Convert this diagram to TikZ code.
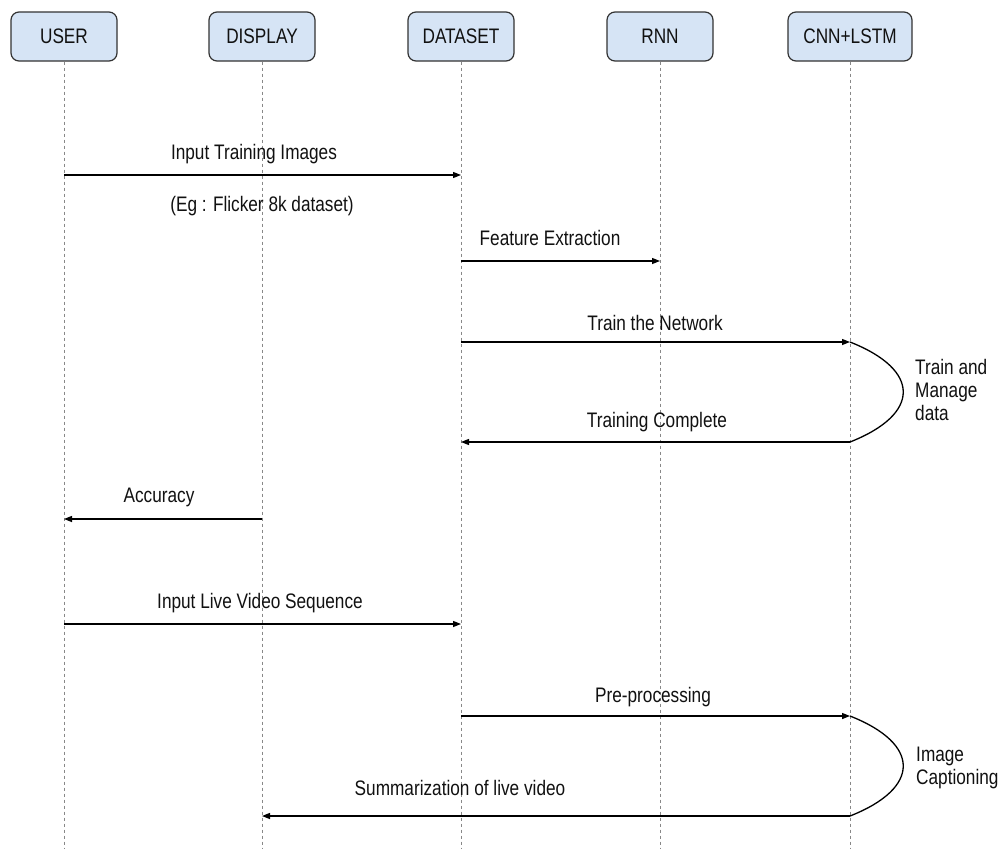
\documentclass[tikz,border=0pt]{standalone}
\usepackage{fontspec}
\setmainfont{Liberation Sans}[FakeStretch=0.82]
\usetikzlibrary{arrows.meta}
\definecolor{boxfill}{HTML}{D6E4F5}
\definecolor{boxline}{HTML}{333333}
\definecolor{lifegray}{HTML}{888888}
\definecolor{txt}{HTML}{111111}
\begin{document}
\begin{tikzpicture}[x=1pt,y=-1pt,
  actor/.style={draw=boxline, line width=1.2pt, fill=boxfill, rounded corners=8pt,
    minimum height=49pt, minimum width=106pt, inner sep=0pt, text=txt,
    font=\fontsize{21}{24}\selectfont},
  life/.style={draw=lifegray, line width=0.8pt, dash pattern=on 3pt off 3pt},
  msg/.style={draw=black, line width=1.3pt, -{Triangle[length=8pt,width=6pt]}},
  selfloop/.style={draw=black, line width=1.3pt},
  lbl/.style={inner sep=0pt, text=txt, font=\fontsize{21}{23}\selectfont},
  side/.style={inner sep=0pt, text=txt, align=left, anchor=north west,
    font=\fontsize{21}{23}\selectfont}
]
\useasboundingbox (0,0) rectangle (998,849);
\fill[white] (0,0) rectangle (998,849);

% actors
\node[actor] (user) at (64,36.5) {USER};
\node[actor] (display) at (262,36.5) {DISPLAY};
\node[actor] (dataset) at (461,36.5) {DATASET};
\node[actor] (rnn) at (660,36.5) {RNN};
\node[actor, minimum width=124pt] (cnn) at (850,36.5) {CNN+LSTM};

% lifeline ends
\coordinate (userE) at (64,849);
\coordinate (displayE) at (262,849);
\coordinate (datasetE) at (461,849);
\coordinate (rnnE) at (660,849);
\coordinate (cnnE) at (850,849);
\draw[life] (user.south) -- (userE);
\draw[life] (display.south) -- (displayE);
\draw[life] (dataset.south) -- (datasetE);
\draw[life] (rnn.south) -- (rnnE);
\draw[life] (cnn.south) -- (cnnE);

% message end points
\coordinate (m1a) at (64,175);  \coordinate (m1b) at (461,175);
\coordinate (m2a) at (461,261); \coordinate (m2b) at (660,261);
\coordinate (m3a) at (461,342); \coordinate (m3b) at (850,342);
\coordinate (m4a) at (850,442); \coordinate (m4b) at (461,442);
\coordinate (m5a) at (262,519); \coordinate (m5b) at (64,519);
\coordinate (m6a) at (64,624);  \coordinate (m6b) at (461,624);
\coordinate (m7a) at (461,716); \coordinate (m7b) at (850,716);
\coordinate (m8a) at (850,816); \coordinate (m8b) at (262,816);

\draw[msg] (m1a) -- (m1b);
\draw[msg] (m2a) -- (m2b);
\draw[msg] (m3a) -- (m3b);
\draw[selfloop] (m3b) .. controls (921,370) and (921,414) .. (m4a);
\draw[msg] (m4a) -- (m4b);
\draw[msg] (m5a) -- (m5b);
\draw[msg] (m6a) -- (m6b);
\draw[msg] (m7a) -- (m7b);
\draw[selfloop] (m7b) .. controls (921,744) and (921,788) .. (m8a);
\draw[msg] (m8a) -- (m8b);

% labels
\node[lbl] (l1) at (254,154) {Input Training Images};
\node[lbl] (l1b) at (262,206) {(Eg : Flicker 8k dataset)};
\node[lbl] (l2) at (550,238) {Feature Extraction};
\node[lbl] (l3) at (655,323) {Train the Network};
\node[side] (l3s) at (915,359) {Train and\\Manage\\data};
\node[lbl] (l4) at (657,422) {Training Complete};
\node[lbl] (l5) at (159,497) {Accuracy};
\node[lbl] (l6) at (260,603) {Input Live Video Sequence};
\node[lbl] (l7) at (653,697) {Pre-processing};
\node[side] (l7s) at (916,747) {Image\\Captioning};
\node[lbl] (l8) at (460,788) {Summarization of live video};
\end{tikzpicture}
\end{document}
